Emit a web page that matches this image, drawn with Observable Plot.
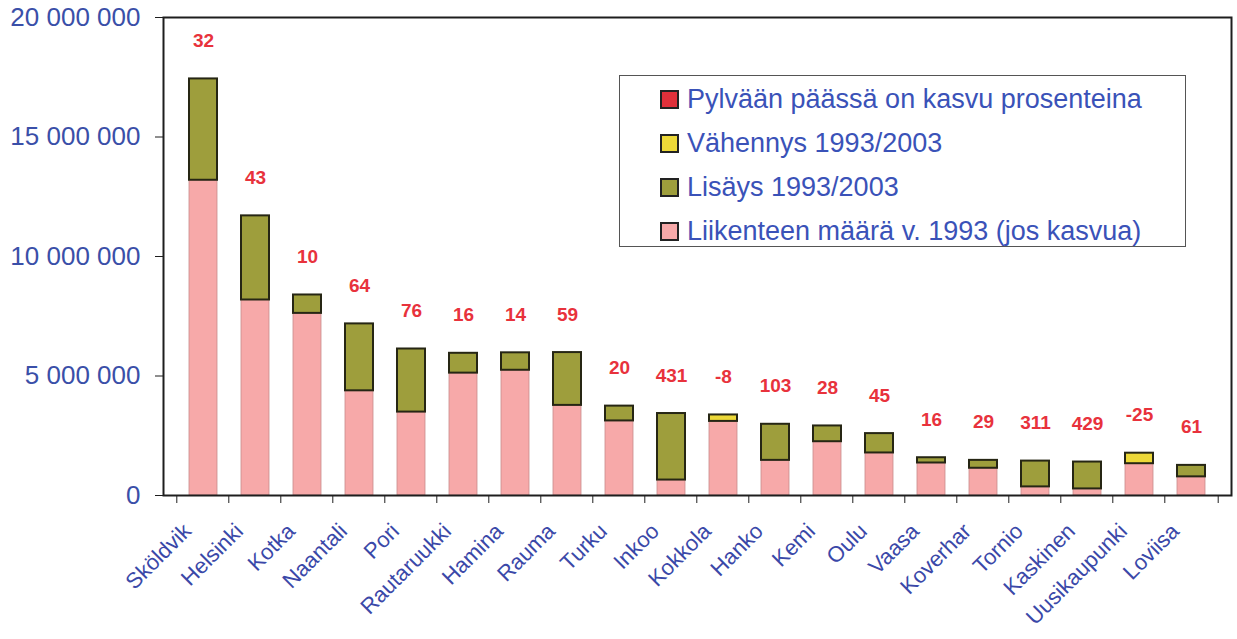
<!DOCTYPE html>
<html>
<head>
<meta charset="utf-8">
<script src="https://cdn.jsdelivr.net/npm/d3@7"></script>
<script src="https://cdn.jsdelivr.net/npm/@observablehq/plot@0.6"></script>
<style>
  html, body { margin: 0; padding: 0; background: #ffffff; }
  #wrap { position: relative; width: 1237px; height: 639px; font-family: "Liberation Sans", Arial, sans-serif; }
  #legend { position: absolute; left: 619px; top: 75px; width: 567px; height: 172px; border: 1px solid #555; background: #fff; box-sizing: border-box; }
  .row { position: absolute; left: 40px; height: 30px; display: flex; align-items: center; }
  .sw { width: 15px; height: 15px; border: 2px solid #222; margin-right: 8px; flex: none; }
  .lt { font-size: 27px; color: #3a52b8; white-space: nowrap; line-height: 30px; }
</style>
</head>
<body>
<div id="wrap"></div>
<script>
const ports = ["Sköldvik","Helsinki","Kotka","Naantali","Pori","Rautaruukki","Hamina","Rauma","Turku","Inkoo","Kokkola","Hanko","Kemi","Oulu","Vaasa","Koverhar","Tornio","Kaskinen","Uusikaupunki","Loviisa"];
const v1993 = [13190000, 8180000, 7620000, 4380000, 3490000, 5120000, 5240000, 3770000, 3120000, 646000, 3370000, 1470000, 2250000, 1780000, 1360000, 1140000, 360000, 275000, 1770000, 780000];
const v2003 = [17430000, 11700000, 8390000, 7180000, 6130000, 5950000, 5970000, 5980000, 3740000, 3430000, 3100000, 2980000, 2910000, 2590000, 1580000, 1470000, 1440000, 1400000, 1330000, 1260000];
const growth = [32, 43, 10, 64, 76, 16, 14, 59, 20, 431, -8, 103, 28, 45, 16, 29, 311, 429, -25, 61];
const yTicks = [0, 5000000, 10000000, 15000000, 20000000];
const legendItems = ["Pylvään päässä on kasvu prosenteina", "Vähennys 1993/2003", "Lisäys 1993/2003", "Liikenteen määrä v. 1993 (jos kasvua)"];
const legendColors = ["#e0303a", "#ecd838", "#9e9e3c", "#f7a9a9"];

const colPink = "#f7a9a9", colOlive = "#9e9e3c", colYellow = "#ecd838";

const base = ports.map((p, i) => ({port: p, y1: 0, y2: Math.min(v1993[i], v2003[i])}));
const change = ports.map((p, i) => ({
  port: p,
  y1: Math.min(v1993[i], v2003[i]),
  y2: Math.max(v1993[i], v2003[i]),
  fill: v2003[i] >= v1993[i] ? colOlive : colYellow
}));
const tops = ports.map((p, i) => ({port: p, y: Math.max(v1993[i], v2003[i]), g: String(growth[i])}));

const W = 1237, H = 639, mL = 163, mR = 6, mT = 17, mB = 144;
const step = (W - mL - mR) / ports.length;
const fmt = d => d3.format(",")(d).replace(/,/g, " ");

const chart = Plot.plot({
  width: W, height: H,
  marginLeft: mL, marginRight: mR, marginTop: mT, marginBottom: mB,
  style: {fontFamily: "'Liberation Sans', Arial, sans-serif", background: "#ffffff", overflow: "visible"},
  x: {domain: ports, padding: 0.47, axis: null},
  y: {domain: [0, 20000000], axis: null},
  color: {type: "identity"},
  marks: [
    Plot.barY(base, {x: "port", y1: "y1", y2: "y2", fill: colPink, stroke: "#c88c8c", strokeWidth: 0.8}),
    Plot.barY(change, {x: "port", y1: "y1", y2: "y2", fill: "fill", stroke: "#262614", strokeWidth: 2}),
    Plot.text(tops, {x: "port", y: "y", text: "g", dy: -38, fill: "#e8323c", fontWeight: "bold", fontSize: 19}),
    Plot.frame({stroke: "#1e1e1e", strokeWidth: 2}),
    Plot.axisY({ticks: yTicks, tickSize: 8, tickFormat: () => "", stroke: "#1e1e1e", label: null}),
    Plot.axisY({ticks: yTicks, tickSize: 0, tickPadding: 23, tickFormat: fmt, fontSize: 26, fill: "#3a4fa8", label: null}),
    Plot.axisX({tickSize: 8, tickFormat: () => "", dx: -step / 2, stroke: "#1e1e1e", label: null}),
    Plot.axisX({ticks: [ports[ports.length - 1]], tickSize: 8, tickFormat: () => "", dx: step / 2, stroke: "#1e1e1e", label: null}),
    Plot.axisX({tickSize: 0, tickRotate: -45, tickPadding: 12, fontSize: 22, fill: "#3a48a8", dx: -16, dy: 20, label: null})
  ]
});

const wrap = document.getElementById("wrap");
wrap.appendChild(chart);

const legend = document.createElement("div");
legend.id = "legend";
legendItems.forEach((t, i) => {
  const row = document.createElement("div");
  row.className = "row";
  row.style.top = (8 + i * 44) + "px";
  const sw = document.createElement("div");
  sw.className = "sw";
  sw.style.background = legendColors[i];
  const lt = document.createElement("span");
  lt.className = "lt";
  lt.textContent = t;
  row.appendChild(sw);
  row.appendChild(lt);
  legend.appendChild(row);
});
wrap.appendChild(legend);
</script>
</body>
</html>
